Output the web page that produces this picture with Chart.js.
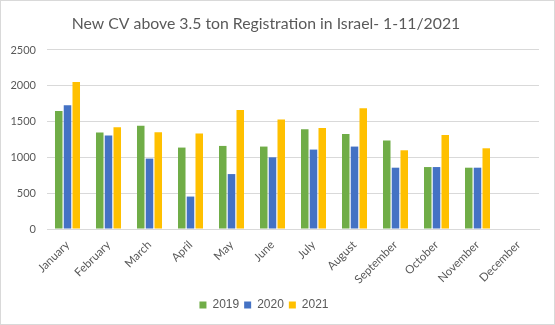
<!DOCTYPE html>
<html><head><meta charset="utf-8">
<script src="https://cdn.jsdelivr.net/npm/chart.js@4"></script>
<style>
html,body{margin:0;padding:0;background:#fff;}
#wrap{position:absolute;left:0;top:0;width:555px;height:325px;box-sizing:border-box;border:1px solid #D9D9D9;background:#fff;}
#wrap div{position:relative;width:553px;height:323px;}
</style></head>
<body>
<div id="wrap"><div><canvas id="c"></canvas></div></div>
<script>
const categories = ["January","February","March","April","May","June","July","August","September","October","November","December"];
const values2019 = [1648,1348,1441,1137,1160,1151,1394,1328,1235,865,856,null];
const values2020 = [1727,1306,983,453,767,1001,1109,1151,856,865,856,null];
const values2021 = [2054,1422,1352,1334,1661,1530,1412,1685,1099,1314,1127,null];
const yTicks = [0,500,1000,1500,2000,2500];
const seriesNames = ["2019","2020","2021"];
const seriesColors = ["#70AD47","#4472C4","#FFC000"];

const grey = "#595959";
const data = {
  labels: categories,
  datasets: [values2019, values2020, values2021].map((v,i)=>({
    label: seriesNames[i], data: v, backgroundColor: seriesColors[i],
    borderWidth: 0, categoryPercentage: 0.64, barPercentage: 0.86
  }))
};
const shiftBoxes = {
  id: 'shiftBoxes',
  afterLayout(chart) {
    if (chart.legend) { chart.legend.left -= 6; chart.legend.right -= 6; }
    if (chart.titleBlock) { chart.titleBlock.left -= 4; chart.titleBlock.right -= 4; }
  }
};
new Chart(document.getElementById('c'), {
  type: 'bar',
  data,
  plugins: [shiftBoxes],
  options: {
    responsive: true, maintainAspectRatio: false, animation: false,
    devicePixelRatio: 1,
    layout: { padding: { left: 0, right: 15, top: 10, bottom: 3 } },
    plugins: {
      title: { display: true, text: "New CV above 3.5 ton Registration in Israel- 1-11/2021",
        color: grey, font: { family: "Lato", size: 15.8, weight: 'normal' }, padding: { top: 3, bottom: 17 } },
      legend: { position: 'bottom',
        labels: { color: grey, boxWidth: 7, boxHeight: 7, padding: 5,
          font: { family: "Liberation Sans", size: 12 } } },
      tooltip: { enabled: false }
    },
    scales: {
      x: {
        grid: { display: false, drawTicks: false },
        border: { display: true, color: "#D9D9D9", width: 1 },
        ticks: { color: grey, font: { family: "Lato", size: 11.5 }, maxRotation: 45, minRotation: 45, padding: 9 },
        afterFit: s => { s.height = 65; }
      },
      y: {
        min: 0, max: 2500,
        afterBuildTicks: s => { s.ticks = yTicks.map(v => ({ value: v })); },
        grid: { color: "#D9D9D9", lineWidth: 1, drawTicks: false },
        border: { display: false },
        ticks: { color: grey, font: { family: "Lato", size: 11 }, padding: 11, callback: v => String(v) },
        afterFit: s => { s.width = 46; }
      }
    }
  }
});
</script>
</body></html>
